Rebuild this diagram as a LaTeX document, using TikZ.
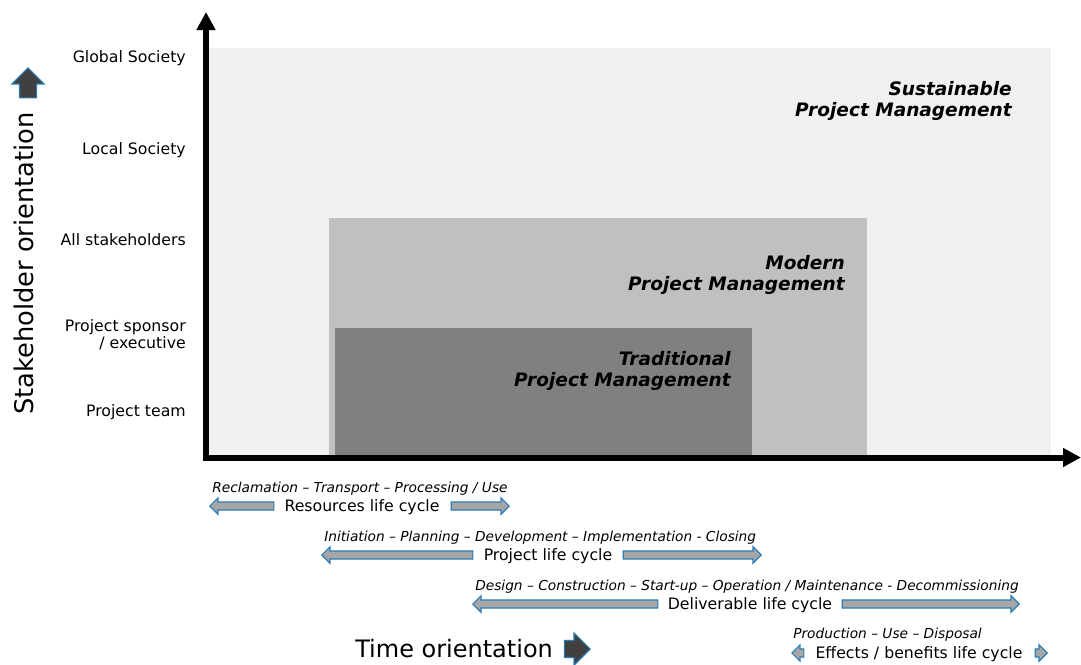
\documentclass[tikz,border=0pt]{standalone}
\usepackage{fontspec}
\setmainfont{DejaVu Sans}
\usetikzlibrary{arrows.meta,shapes.arrows}

\definecolor{spmgray}{HTML}{F0F0F0}
\definecolor{mpmgray}{HTML}{C0C0C0}
\definecolor{tpmgray}{HTML}{808080}
\definecolor{lcgray}{HTML}{A6A6A6}
\definecolor{lcblue}{HTML}{2C7BB4}
\definecolor{orgray}{HTML}{404040}

\tikzset{
  axis/.style={line width=4.5pt, -{Triangle[length=13.5pt,width=13.5pt]}},
  level/.style={anchor=base east, align=right, inner sep=0pt, font=\fontsize{11.8}{12.75}\selectfont},
  pmlabel/.style={anchor=base east, align=right, inner sep=0pt, font=\fontsize{13.9}{15.75}\selectfont\bfseries\itshape},
  phases/.style={anchor=base west, inner sep=0pt, font=\fontsize{10.3}{12}\selectfont\itshape},
  cycle/.style={anchor=base, inner sep=0pt, font=\fontsize{11.8}{13}\selectfont},
  lcarrow/.style={single arrow, draw=lcblue, fill=lcgray, line width=0.9pt, inner xsep=0pt, inner ysep=2.6pt,
    single arrow head extend=3pt, anchor=tip},
  orarrow/.style={single arrow, draw=lcblue, fill=orgray, line width=0.9pt, inner sep=6pt,
    single arrow head extend=5.6pt, anchor=tip}
}

\begin{document}
\begin{tikzpicture}[x=0.75pt, y=-0.75pt]
\useasboundingbox (0,0) rectangle (1081,664);

% the three fields
\fill[spmgray] (206,48) rectangle (1051,457);
\fill[mpmgray] (329,218) rectangle (867,457);
\fill[tpmgray] (335,328) rectangle (752,457);

\node[pmlabel] (spm) at (1012,116) {Sustainable\\Project Management};
\node[pmlabel] (mpm) at (845,290) {Modern\\Project Management};
\node[pmlabel] (tpm) at (731,386) {Traditional\\Project Management};

% axes
\coordinate (xstart) at (203,457.5);
\coordinate (xend) at (1081,457.5);
\coordinate (ystart) at (206,460);
\coordinate (yend) at (206,12);
\draw[axis] (ystart) -- (yend);
\draw[axis] (xstart) -- (xend);

% stakeholder levels
\node[level] (global) at (186,62) {Global Society};
\node[level] (local) at (186,154) {Local Society};
\node[level] (all) at (186,245) {All stakeholders};
\node[level] (sponsor) at (186,348) {Project sponsor\\/ executive};
\node[level] (team) at (186,416) {Project team};

\node[anchor=base, rotate=90, inner sep=0pt, font=\fontsize{19.3}{22}\selectfont] (stake) at (33,263.5) {Stakeholder orientation};
\node[orarrow, shape border rotate=90, minimum height=22.5pt] (stakearrow) at (28,67) {};

\node[anchor=base west, inner sep=0pt, font=\fontsize{18}{22}\selectfont] (time) at (355,657) {Time orientation};
\node[orarrow, shape border rotate=0, minimum height=17.25pt] (timearrow) at (591,649) {};

% life cycles
\node[phases] (resph) at (212,492.5) {Reclamation – Transport – Processing / Use};
\node[cycle] (res) at (362,511) {Resources life cycle};
\node[lcarrow, shape border rotate=180, minimum height=48pt] (resl) at (209,506) {};
\node[lcarrow, minimum height=43.5pt] (resr) at (510,506) {};

\node[phases] (proph) at (324,541.5) {Initiation – Planning – Development – Implementation - Closing};
\node[cycle] (pro) at (548,560) {Project life cycle};
\node[lcarrow, shape border rotate=180, minimum height=113.25pt] (prol) at (321,555) {};
\node[lcarrow, minimum height=103.5pt] (pror) at (762,555) {};

\node[phases] (delph) at (475,590.5) {Design – Construction – Start-up – Operation / Maintenance - Decommissioning};
\node[cycle] (del) at (750,609) {Deliverable life cycle};
\node[lcarrow, shape border rotate=180, minimum height=138.75pt] (dell) at (472,604) {};
\node[lcarrow, minimum height=132.75pt] (delr) at (1020,604) {};

\node[phases] (effph) at (793,638.5) {Production – Use – Disposal};
\node[cycle] (eff) at (919,658) {Effects / benefits life cycle};
\node[lcarrow, shape border rotate=180, minimum height=9pt] (effl) at (791,653) {};
\node[lcarrow, minimum height=9pt] (effr) at (1048,653) {};
\end{tikzpicture}
\end{document}
